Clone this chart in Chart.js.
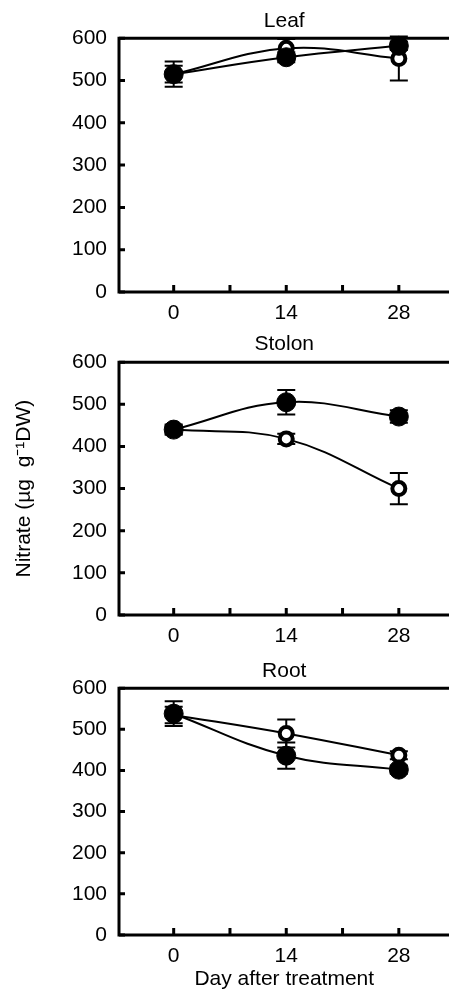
<!DOCTYPE html>
<html>
<head>
<meta charset="utf-8">
<script src="https://cdn.jsdelivr.net/npm/chart.js@4.4.1/dist/chart.umd.min.js"></script>
<style>
  html, body { margin: 0; padding: 0; background: #fff; }
  body { width: 449px; height: 995px; position: relative; overflow: hidden; }
  .panel { position: absolute; left: 0; width: 460px; }
</style>
</head>
<body>
<div class="panel" id="p1" style="top:0px;height:330px;"><canvas id="c1"></canvas></div>
<div class="panel" id="p2" style="top:322px;height:331px;"><canvas id="c2"></canvas></div>
<div class="panel" id="p3" style="top:650px;height:345px;"><canvas id="c3"></canvas></div>
<script>
// ---- data ----
const days = [0, 14, 28];
const xTickLabels = [0, 14, 28];
const xMinorTicks = [0, 7, 14, 21, 28];
const yTicks = [0, 100, 200, 300, 400, 500, 600];

const panelTitles = ['Leaf', 'Stolon', 'Root'];

const leafFilled = [515, 555, 582];
const leafFilledErr = [30, 12, 10];
const leafOpen = [515, 576, 552];
const leafOpenErr = [20, 22, 52];

const stolonFilled = [440, 505, 471];
const stolonFilledErr = [12, 29, 15];
const stolonOpen = [440, 418, 300];
const stolonOpenErr = [10, 12, 37];

const rootFilled = [538, 436, 402];
const rootFilledErr = [30, 32, 10];
const rootOpen = [535, 490, 437];
const rootOpenErr = [20, 34, 10];

const yTitle = 'Nitrate (µg  g⁻¹DW)';
const xTitle = 'Day after treatment';

// ---- rendering ----
const FS = 21;
Chart.defaults.font.family = "'Liberation Sans', Arial, sans-serif";
Chart.defaults.font.size = FS;
Chart.defaults.color = '#000';

const errorBars = {
  id: 'errorBars',
  beforeDatasetsDraw(chart) {
    const ctx = chart.ctx;
    const xs = chart.scales.x, ys = chart.scales.y;
    ctx.save();
    ctx.strokeStyle = '#000';
    ctx.lineWidth = 2;
    chart.data.datasets.forEach(ds => {
      ds.errors.forEach((e, i) => {
        const px = xs.getPixelForValue(ds.data[i].x);
        const yTop = ys.getPixelForValue(ds.data[i].y + e);
        const yBot = ys.getPixelForValue(ds.data[i].y - e);
        ctx.beginPath();
        ctx.moveTo(px, yTop); ctx.lineTo(px, yBot);
        ctx.moveTo(px - 9, yTop); ctx.lineTo(px + 9, yTop);
        ctx.moveTo(px - 9, yBot); ctx.lineTo(px + 9, yBot);
        ctx.stroke();
      });
    });
    ctx.restore();
  }
};

const frame = {
  id: 'frame',
  beforeDatasetsDraw(chart) {
    const ctx = chart.ctx;
    const a = chart.chartArea;
    const xs = chart.scales.x, ys = chart.scales.y;
    ctx.save();
    ctx.strokeStyle = '#000';
    ctx.lineWidth = 3;
    ctx.lineCap = 'square';
    ctx.beginPath();
    ctx.moveTo(a.right, a.top); ctx.lineTo(a.left, a.top);
    ctx.lineTo(a.left, a.bottom); ctx.lineTo(a.right, a.bottom);
    ctx.stroke();
    ctx.lineCap = 'butt';
    ctx.beginPath();
    yTicks.forEach(v => {
      const py = ys.getPixelForValue(v);
      ctx.moveTo(a.left, py); ctx.lineTo(a.left + 6, py);
    });
    xMinorTicks.forEach(v => {
      const px = xs.getPixelForValue(v);
      ctx.moveTo(px, a.bottom); ctx.lineTo(px, a.bottom - 7);
    });
    ctx.stroke();
    ctx.restore();
  }
};

function makeChart(id, title, filled, filledErr, open, openErr, opts) {
  const toPts = arr => days.map((d, i) => ({ x: d, y: arr[i] }));
  return new Chart(document.getElementById(id), {
    type: 'line',
    data: {
      datasets: [
        {
          label: 'filled',
          data: toPts(filled),
          errors: filledErr,
          borderColor: '#000', borderWidth: 2,
          pointBackgroundColor: '#000', pointBorderColor: '#000',
          pointRadius: 9.5, pointBorderWidth: 1,
          tension: 0.4, clip: false, fill: false
        },
        {
          label: 'open',
          data: toPts(open),
          errors: openErr,
          borderColor: '#000', borderWidth: 2,
          pointBackgroundColor: '#fff', pointBorderColor: '#000',
          pointRadius: 6.5, pointBorderWidth: 4,
          tension: 0.4, clip: false, fill: false
        }
      ]
    },
    options: {
      responsive: true,
      maintainAspectRatio: false,
      animation: false,
      events: [],
      layout: { padding: { left: 0, right: 0, top: 0, bottom: 0 } },
      plugins: {
        legend: { display: false },
        tooltip: { enabled: false },
        title: {
          display: true, text: title, fullSize: false,
          font: { size: FS, weight: 'normal' },
          padding: { top: opts.titleTop, bottom: opts.titleBottom }
        }
      },
      scales: {
        x: {
          type: 'linear', min: -6.8, max: 34.3,
          grid: { display: false, drawTicks: false },
          border: { display: false },
          afterBuildTicks: s => { s.ticks = xTickLabels.map(v => ({ value: v })); },
          ticks: { padding: 9, font: { size: FS }, maxRotation: 0 },
          afterFit: s => { s.height = opts.xHeight; },
          title: opts.xTitle ? { display: true, text: opts.xTitle, font: { size: FS }, padding: { top: 0, bottom: 3 } } : { display: false }
        },
        y: {
          min: 0, max: 600,
          grid: { display: false, drawTicks: false },
          border: { display: false },
          afterBuildTicks: s => { s.ticks = yTicks.map(v => ({ value: v })); },
          ticks: { padding: 12, font: { size: FS } },
          afterFit: s => { s.width = 119; },
          title: opts.yTitle ? { display: true, text: opts.yTitle, font: { size: FS }, padding: { top: 12, bottom: 0 } } : { display: false }
        }
      }
    },
    plugins: [frame, errorBars]
  });
}

makeChart('c1', panelTitles[0], leafFilled, leafFilledErr, leafOpen, leafOpenErr,
  { titleTop: 9, titleBottom: 4, xHeight: 38 });
makeChart('c2', panelTitles[1], stolonFilled, stolonFilledErr, stolonOpen, stolonOpenErr,
  { titleTop: 10, titleBottom: 5, xHeight: 38, yTitle: yTitle });
makeChart('c3', panelTitles[2], rootFilled, rootFilledErr, rootOpen, rootOpenErr,
  { titleTop: 9, titleBottom: 4, xHeight: 60, xTitle: xTitle });
</script>
</body>
</html>
